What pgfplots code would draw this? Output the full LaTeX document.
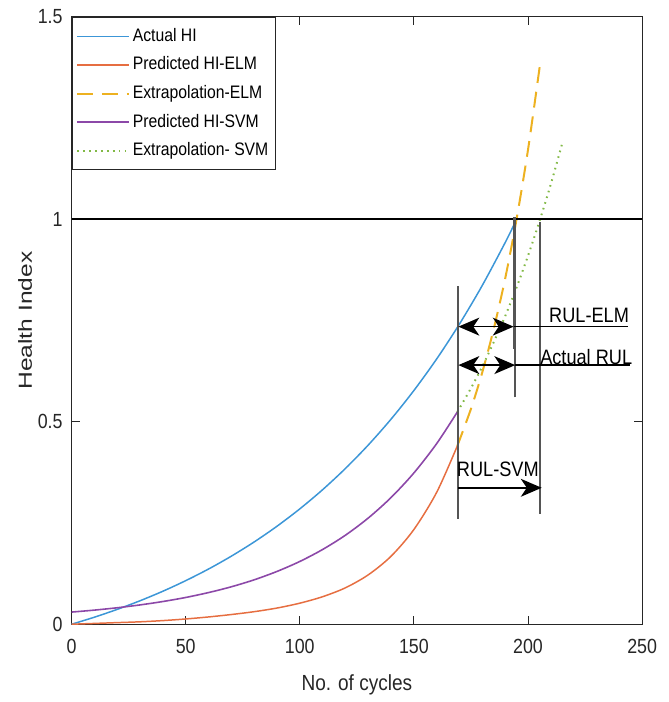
\documentclass[border=0pt]{standalone}
\usepackage{fontspec}
\setmainfont{Liberation Sans}[FakeStretch=0.87]
\newfontfamily\ylfont{Liberation Sans}[FakeStretch=1.3]
\usepackage{pgfplots}
\pgfplotsset{compat=1.18}
\usetikzlibrary{arrows.meta}

\definecolor{hiblue}{RGB}{60,150,215}
\definecolor{elmred}{RGB}{230,110,65}
\definecolor{elmyel}{RGB}{237,177,32}
\definecolor{svmpur}{RGB}{140,72,168}
\definecolor{svmgrn}{RGB}{130,185,70}
\definecolor{axgray}{RGB}{38,38,38}
\definecolor{vgray}{RGB}{85,85,85}

\begin{document}
\begin{tikzpicture}
\begin{axis}[
    scale only axis,
    width=287pt, height=305.5pt,
    xmin=0, xmax=250, ymin=0, ymax=1.5,
    xtick={0,50,100,150,200,250},
    ytick={0,0.5,1,1.5},
    yticklabels={0,0.5,1,1.5},
    tick align=inside,
    major tick length=4pt,
    axis line style={axgray, line width=0.6pt},
    tick style={axgray, line width=0.5pt},
    /pgf/number format/assume math mode=true,
    tick label style={font=\fontsize{10.3}{12}\selectfont, text=axgray},
    xticklabel style={yshift=-4pt},
    yticklabel style={xshift=-1pt},
    xlabel={No. of cycles},
    ylabel={\ylfont Health Index},
    xlabel style={font=\fontsize{11}{13}\selectfont, text=axgray, at={(axis description cs:0.5,0)}, anchor=base, yshift=-33.5pt},
    ylabel style={font=\fontsize{9.5}{12}\selectfont, text=axgray, at={(axis description cs:0,0.5)}, anchor=base, yshift=20pt},
    clip=false,
    legend cell align=left,
    legend image code/.code={\draw[#1] (0pt,0pt) -- (26pt,0pt);},
    legend style={at={(0,1)}, anchor=north west, draw=axgray, line width=0.6pt,
        font=\fontsize{9.1}{11}\selectfont, inner xsep=2pt, inner ysep=3pt,
        row sep=1.4pt,
        nodes={inner xsep=1.5pt, inner ysep=2pt, text height=7pt, text depth=2pt, text=black}},
]
% Actual HI
\addplot[hiblue, line width=0.75pt, smooth] coordinates {
(0,0) (10,0.0174) (20,0.0367) (30,0.0580) (40,0.0815) (50,0.1076) (60,0.1363)
(70,0.1681) (80,0.2032) (90,0.2420) (100,0.2849) (110,0.3323) (120,0.3847)
(130,0.4426) (140,0.5066) (150,0.5773) (160,0.6554) (170,0.7418) (180,0.8372)
(190,0.9427) (195,1.0)};
\addlegendentry{Actual HI}
% Predicted HI-ELM
\addplot[elmred, line width=0.75pt, smooth] coordinates {
(0,0) (10,0.002) (20,0.004) (30,0.006) (40,0.009) (50,0.013) (60,0.018)
(70,0.024) (80,0.031) (90,0.040) (100,0.052) (110,0.068) (120,0.090)
(130,0.122) (140,0.168) (150,0.234) (160,0.326) (169,0.44)};
\addlegendentry{Predicted HI-ELM}
% Extrapolation-ELM
\addplot[elmyel, line width=1pt, smooth, dash pattern=on 8pt off 4.5pt] coordinates {
(169,0.440) (175,0.532) (180,0.623) (185,0.730) (190,0.854) (195,1.001)
(200,1.172) (205,1.372) (205.5,1.394)};
\addlegendentry{Extrapolation-ELM}
% Predicted HI-SVM
\addplot[color=svmpur, line width=0.8pt, smooth] coordinates {
(0,0.030) (10,0.0349) (20,0.0407) (30,0.0477) (40,0.0561) (50,0.0661)
(60,0.0782) (70,0.0925) (80,0.1097) (90,0.1304) (100,0.1550) (110,0.1846)
(120,0.2199) (130,0.2623) (140,0.3130) (150,0.3737) (160,0.4463) (169,0.5239)};
\addlegendentry{Predicted HI-SVM}
% Extrapolation-SVM
\addplot[svmgrn, line width=1pt, smooth, dash pattern=on 0.8pt off 2.2pt] coordinates {
(169,0.524) (175,0.583) (180,0.637) (185,0.697) (190,0.761) (195,0.832)
(200,0.910) (205,0.995) (210,1.087) (215,1.188)};
\addlegendentry{Extrapolation- SVM}

% threshold line
\addplot[black, line width=1pt, forget plot] coordinates {(0,1) (250,1)};
% vertical markers
\addplot[vgray, line width=1pt, forget plot] coordinates {(169.5,0.26) (169.5,0.835)};
\addplot[vgray, line width=1pt, forget plot] coordinates {(193.7,0.68) (193.7,1.005)};
\addplot[vgray, line width=1pt, forget plot] coordinates {(194.4,0.56) (194.4,1.005)};
\addplot[vgray, line width=1pt, forget plot] coordinates {(205.2,0.273) (205.2,0.993)};
% RUL arrows
\addplot[black, line width=0.8pt, {Stealth[length=10.5pt,width=9pt,inset=3pt]}-{Stealth[length=10.5pt,width=9pt,inset=3pt]}, forget plot] coordinates {(169.5,0.735) (193.7,0.735)};
\addplot[black, line width=0.8pt, forget plot] coordinates {(193.7,0.735) (243.7,0.735)};
\addplot[black, line width=0.8pt, {Stealth[length=10.5pt,width=9pt,inset=3pt]}-{Stealth[length=10.5pt,width=9pt,inset=3pt]}, forget plot] coordinates {(169.5,0.64) (194.4,0.64)};
\addplot[black, line width=0.8pt, forget plot] coordinates {(194.4,0.64) (244.6,0.64)};
\addplot[black, line width=0.8pt, -{Stealth[length=10.5pt,width=9pt,inset=3pt]}, forget plot] coordinates {(169.5,0.337) (206,0.337)};

\node[anchor=base west, inner sep=0pt, font=\fontsize{10.5}{12}\selectfont] at (axis cs:209.1,0.745) {RUL-ELM};
\node[anchor=base west, inner sep=0pt, font=\fontsize{10.5}{12}\selectfont] at (axis cs:205.2,0.6425) {Actual RUL};
\node[anchor=base west, inner sep=0pt, font=\fontsize{10.5}{12}\selectfont] at (axis cs:168.7,0.364) {RUL-SVM};
\end{axis}
\path ([shift={(-36pt,-37pt)}]current axis.south west) rectangle ([shift={(13.5pt,8.5pt)}]current axis.north east);
\end{tikzpicture}
\end{document}
